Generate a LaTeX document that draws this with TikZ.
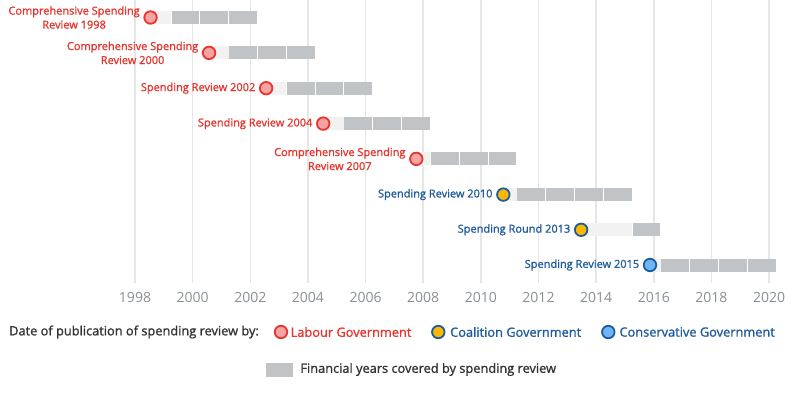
\documentclass[tikz,border=0pt]{standalone}
\usepackage{fontspec}
\setmainfont{Open Sans}
\newfontfamily\sbfont[FakeBold=1.2]{Open Sans}
\definecolor{labred}{HTML}{E8352D}
\definecolor{labfill}{HTML}{F5A3A3}
\definecolor{govblue}{HTML}{1F5C9E}
\definecolor{coalfill}{HTML}{FBB800}
\definecolor{consfill}{HTML}{6DB5F7}
\definecolor{blockc}{HTML}{C1C4C7}
\definecolor{bandc}{HTML}{F2F2F2}
\definecolor{gridc}{HTML}{E6E6E6}
\definecolor{axisc}{HTML}{8A8F94}
\definecolor{legtext}{HTML}{333333}
\newcommand\tlrow[8]{%
  \pgfmathsetmacro\cx{135+(#2-1998)*28.82}%
  \pgfmathsetmacro\bx{135+(#3-1998)*28.82}%
  \fill[bandc] (\cx,#1-6.5) rectangle (\bx,#1+6.5);
  \foreach \k in {1,...,#4} {
    \fill[blockc] ({\bx+(\k-1)*28.82+0.5},#1-6.5) rectangle ({\bx+\k*28.82-0.5},#1+6.5);
  }
  \node[#5] (#6) at (\cx,#1) {};
  \node[lbl,text=#8] (#6l) at ([xshift=-3.5pt]#6.west) {#7};
}
\begin{document}
\begin{tikzpicture}[x=1pt,y=-1pt,
  dot/.style={circle,inner sep=0pt,minimum size=12.5pt,line width=1.8pt},
  labdot/.style={dot,draw=labred,fill=labfill},
  coaldot/.style={dot,draw=govblue,fill=coalfill},
  consdot/.style={dot,draw=govblue,fill=consfill},
  lbl/.style={font=\sbfont\fontsize{11}{14}\selectfont,align=center,inner sep=0pt,anchor=east},
  axislbl/.style={font=\fontsize{14}{16}\selectfont,text=axisc,inner sep=0pt},
  legtxt/.style={font=\sbfont\fontsize{12.8}{15}\selectfont,inner sep=0pt,anchor=west}]
\useasboundingbox (0,0) rectangle (800,396);
\fill[white] (0,0) rectangle (800,396);
% grid and axis
\foreach \i [evaluate=\i as \yy using int(1998+2*\i)] in {0,...,11} {
  \draw[gridc,line width=1.5pt] ({135+\i*57.64},0) -- ({135+\i*57.64},282.5);
  \node[axislbl] (ax\i) at ({135+\i*57.64},297) {\yy};
}
% rows
\tlrow{17.5}{1998.54}{1999.25}{3}{labdot}{r98}{Comprehensive Spending\\Review 1998}{labred}
\tlrow{52.9}{2000.57}{2001.25}{3}{labdot}{r00}{Comprehensive Spending\\Review 2000}{labred}
\tlrow{88.2}{2002.55}{2003.25}{3}{labdot}{r02}{Spending Review 2002}{labred}
\tlrow{123.6}{2004.53}{2005.25}{3}{labdot}{r04}{Spending Review 2004}{labred}
\tlrow{158.9}{2007.76}{2008.25}{3}{labdot}{r07}{Comprehensive Spending\\Review 2007}{labred}
\tlrow{194.6}{2010.78}{2011.25}{4}{coaldot}{r10}{Spending Review 2010}{govblue}
\tlrow{229.8}{2013.48}{2015.25}{1}{coaldot}{r13}{Spending Round 2013}{govblue}
\tlrow{265}{2015.87}{2016.25}{4}{consdot}{r15}{Spending Review 2015}{govblue}
% legend
\node[legtxt,text=legtext] (legtitle) at (9,332) {Date of publication of spending review by:};
\node[labdot] (legl) at (281,332) {};
\node[legtxt,text=labred] (leglt) at (290.5,332) {Labour Government};
\node[coaldot] (legc) at (438.3,332) {};
\node[legtxt,text=govblue] (legct) at (450,332) {Coalition Government};
\node[consdot] (legs) at (608.3,332) {};
\node[legtxt,text=govblue] (legst) at (619.3,332) {Conservative Government};
\node[fill=blockc,minimum width=27pt,minimum height=14pt,inner sep=0pt] (legsq) at (279.5,369.5) {};
\node[legtxt,text=legtext] (legsqt) at ([xshift=7pt]legsq.east) {Financial years covered by spending review};
\end{tikzpicture}
\end{document}
